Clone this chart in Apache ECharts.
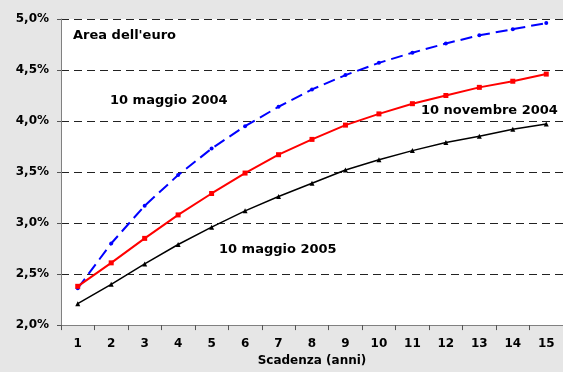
<!DOCTYPE html>
<html>
<head>
<meta charset="utf-8">
<script src="https://cdn.jsdelivr.net/npm/echarts@6/dist/echarts.min.js"></script>
<style>
  html, body { margin: 0; padding: 0; background: #e6e6e6; }
  #chart { width: 563px; height: 372px; }
</style>
</head>
<body>
<div id="chart"></div>
<script>
// scadenze in anni
const maturities = ['1','2','3','4','5','6','7','8','9','10','11','12','13','14','15'];

// rendimenti (%)
const may2004 = [2.36, 2.80, 3.17, 3.47, 3.73, 3.95, 4.14, 4.31, 4.45, 4.57, 4.67, 4.76, 4.84, 4.90, 4.96];
const nov2004 = [2.38, 2.61, 2.85, 3.08, 3.29, 3.49, 3.67, 3.82, 3.96, 4.07, 4.17, 4.25, 4.33, 4.39, 4.46];
const may2005 = [2.21, 2.40, 2.60, 2.79, 2.96, 3.12, 3.26, 3.39, 3.52, 3.62, 3.71, 3.79, 3.85, 3.92, 3.97];

const chart = echarts.init(document.getElementById('chart'));
const font = 'DejaVu Sans';

const labelText = (text, left, top) => ({
  type: 'text', left: left, top: top,
  style: { text: text, font: 'bold 13px "DejaVu Sans"', fill: '#000' }
});

const option = {
  backgroundColor: '#e6e6e6',
  animation: false,
  grid: { left: 61, right: 0, top: 19, bottom: 44, show: true, backgroundColor: '#fff', borderWidth: 0 },
  xAxis: {
    type: 'category',
    data: maturities,
    boundaryGap: true,
    name: 'Scadenza (anni)',
    nameLocation: 'middle',
    nameGap: 29,
    nameTextStyle: { fontFamily: font, fontWeight: 'bold', fontSize: 12, color: '#000' },
    axisLine: { lineStyle: { color: '#808080', width: 1 } },
    axisTick: { show: true, length: 5, lineStyle: { color: '#555' } },
    axisLabel: { fontFamily: font, fontWeight: 'bold', fontSize: 12, color: '#000', margin: 13 }
  },
  yAxis: {
    type: 'value',
    min: 2.0, max: 5.0, interval: 0.5,
    axisLine: { show: true, lineStyle: { color: '#808080', width: 1 } },
    axisTick: { show: true, length: 4, lineStyle: { color: '#555' } },
    axisLabel: {
      fontFamily: font, fontWeight: 'bold', fontSize: 12, color: '#000', margin: 12,
      formatter: v => v.toFixed(1).replace('.', ',') + '%'
    },
    splitLine: { lineStyle: { color: '#222', type: [8, 5], width: 1 } }
  },
  graphic: [
    labelText("Area dell'euro", 73, 29),
    labelText('10 maggio 2004', 110, 94),
    labelText('10 novembre 2004', 421, 104),
    labelText('10 maggio 2005', 219, 243)
  ],
  series: [
    {
      name: '10 maggio 2004', type: 'line', data: may2004,
      symbol: 'circle', symbolSize: 4,
      lineStyle: { color: '#0000ff', width: 2, type: [12, 6] },
      itemStyle: { color: '#0000ff' }
    },
    {
      name: '10 novembre 2004', type: 'line', data: nov2004,
      symbol: 'rect', symbolSize: 5,
      lineStyle: { color: '#ff0000', width: 2 },
      itemStyle: { color: '#ff0000' }
    },
    {
      name: '10 maggio 2005', type: 'line', data: may2005,
      symbol: 'triangle', symbolSize: 5,
      lineStyle: { color: '#000', width: 1.5 },
      itemStyle: { color: '#000' }
    }
  ]
};

chart.setOption(option);
</script>
</body>
</html>
